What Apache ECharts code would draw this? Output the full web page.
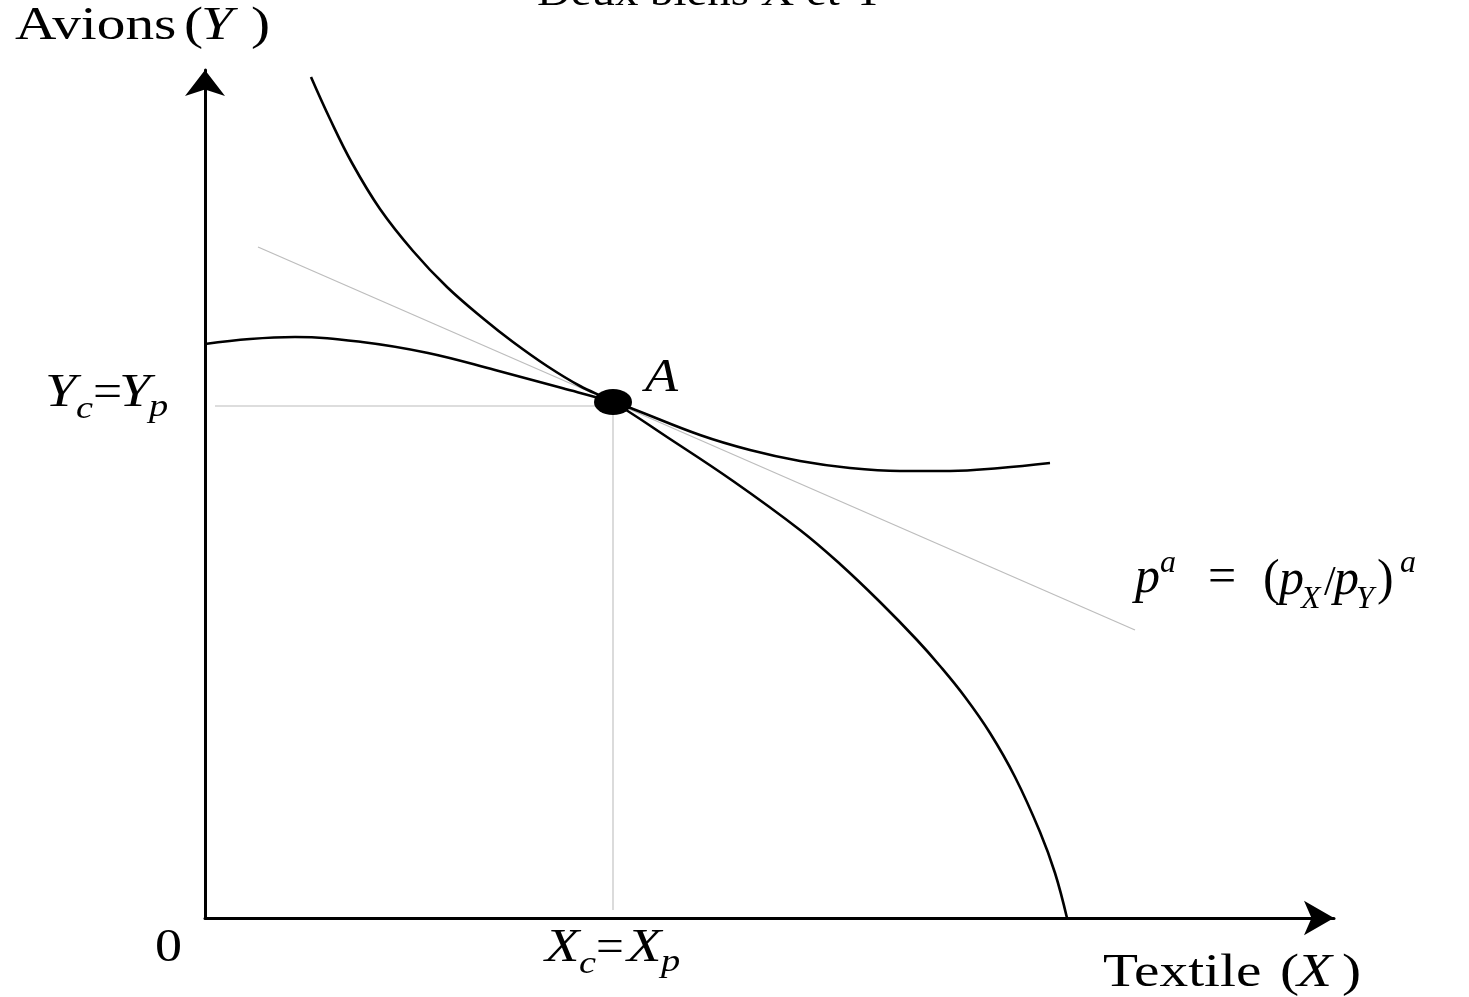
<!DOCTYPE html>
<html>
<head>
<meta charset="utf-8">
<title>Deux biens X et Y</title>
<script src="https://cdn.jsdelivr.net/npm/echarts@6/dist/echarts.min.js"></script>
<style>
  html, body { margin: 0; padding: 0; background: #fff; }
  #chart { width: 1469px; height: 997px; }
</style>
</head>
<body>
<div id="chart"></div>
<script>
// courbe qui descend jusqu'a l'axe des X
const curveSteep = [
  [106, 841], [125, 799], [147, 755], [175, 709], [208, 667], [242, 631],
  [280, 598], [308, 576], [342, 552], [375, 532], [408, 516], [462, 481],
  [528, 437], [595, 388], [635, 354], [675, 316], [712, 278], [735, 252],
  [760, 221], [785, 185], [810, 141], [835, 86], [850, 45], [862, 0]
];
// courbe plate qui part de l'axe des Y
const curveFlat = [
  [0, 574], [45, 579], [90, 581], [157, 576], [223, 565], [290, 548],
  [357, 530], [408, 516], [428, 509], [495, 483], [545, 468], [595, 457],
  [645, 450], [695, 447], [745, 447], [795, 450], [845, 455]
];
// droite de prix relatif
const priceLine = [[53, 671], [930, 288]];
// point A et lignes de rappel
const pointA = [408, 516];
const guideH = [[10, 512], [408, 512]];
const guideV = [[408, 512], [408, 8]];

const font = "Liberation Serif";

// morceaux de texte : [texte, x, ligne de base, taille, italique, scaleX]
const labels = [
  ["Deux biens X et Y", 537, 8, 40, false, 1.17],
  ["Avions", 15, 43, 47, false, 1.22],
  ["(", 184, 43, 47, false, 1.22],
  ["Y", 201, 43, 47, true, 1.22],
  [")", 251, 43, 47, false, 1.22],
  ["Y", 45, 410, 47, true, 1.2],
  ["c", 76, 420, 32, true, 1.2],
  ["=", 93, 410, 47, false, 1.1],
  ["Y", 119, 410, 47, true, 1.2],
  ["p", 149, 418, 32, true, 1.2],
  ["A", 645, 395, 47, true, 1.15],
  ["0", 155, 965, 47, false, 1.15],
  ["X", 545, 965, 47, true, 1.2],
  ["c", 579, 975, 32, true, 1.2],
  ["=", 596, 965, 47, false, 1.05],
  ["X", 627, 965, 47, true, 1.2],
  ["p", 661, 973, 32, true, 1.2],
  ["Textile", 1103, 990, 47, false, 1.22],
  ["(", 1280, 990, 47, false, 1.22],
  ["X", 1297, 990, 47, true, 1.22],
  [")", 1342, 990, 47, false, 1.22],
  ["p", 1135, 596, 50, true, 1.0],
  ["a", 1160, 574, 32, true, 1.0],
  ["=", 1208, 596, 50, false, 1.0],
  ["(", 1263, 598, 50, false, 1.0],
  ["p", 1279, 598, 50, true, 1.0],
  ["X", 1301, 610, 32, true, 1.0],
  ["/", 1324, 598, 42, false, 1.0],
  ["p", 1334, 598, 50, true, 1.0],
  ["Y", 1356, 610, 32, true, 1.0],
  [")", 1377, 598, 50, false, 1.0],
  ["a", 1400, 574, 32, true, 1.0]
];

const chart = echarts.init(document.querySelector("#chart"));

const blackLine = (data) => ({
  type: "line",
  data: data,
  smooth: 0.4,
  symbol: "none",
  clip: false,
  lineStyle: { color: "#000", width: 2.6 },
  z: 3
});

const thinLine = (data, color, width) => ({
  type: "line",
  data: data,
  symbol: "none",
  clip: false,
  lineStyle: { color: color, width: width },
  z: 2
});

chart.setOption({
  animation: false,
  backgroundColor: "#fff",
  grid: { left: 205, top: 70, right: 135, bottom: 79, containLabel: false },
  xAxis: {
    type: "value",
    min: 0,
    max: 1129,
    axisLine: {
      onZero: false,
      symbol: ["none", "arrow"],
      symbolSize: [26, 30],
      lineStyle: { color: "#000", width: 3 }
    },
    axisTick: { show: false },
    axisLabel: { show: false },
    splitLine: { show: false }
  },
  yAxis: {
    type: "value",
    min: 0,
    max: 848,
    axisLine: {
      show: true,
      onZero: false,
      symbol: ["none", "arrow"],
      symbolSize: [30, 26],
      lineStyle: { color: "#000", width: 3 }
    },
    axisTick: { show: false },
    axisLabel: { show: false },
    splitLine: { show: false }
  },
  series: [
    thinLine(guideH, "#d2d2d2", 1.6),
    thinLine(guideV, "#d2d2d2", 1.6),
    thinLine(priceLine, "#bdbdbd", 1.3),
    blackLine(curveSteep),
    blackLine(curveFlat),
    {
      type: "scatter",
      data: [pointA],
      symbol: "circle",
      symbolSize: [38, 26],
      itemStyle: { color: "#000", opacity: 1 },
      z: 5
    }
  ],
  graphic: labels.map(([text, x, base, size, italic, sx]) => ({
    type: "text",
    x: x,
    y: base - 0.34 * size,
    scaleX: sx,
    silent: true,
    style: {
      text: text,
      fill: "#000",
      fontFamily: font,
      fontSize: size,
      fontStyle: italic ? "italic" : "normal",
      textAlign: "left",
      textVerticalAlign: "middle"
    }
  }))
});
</script>
</body>
</html>
